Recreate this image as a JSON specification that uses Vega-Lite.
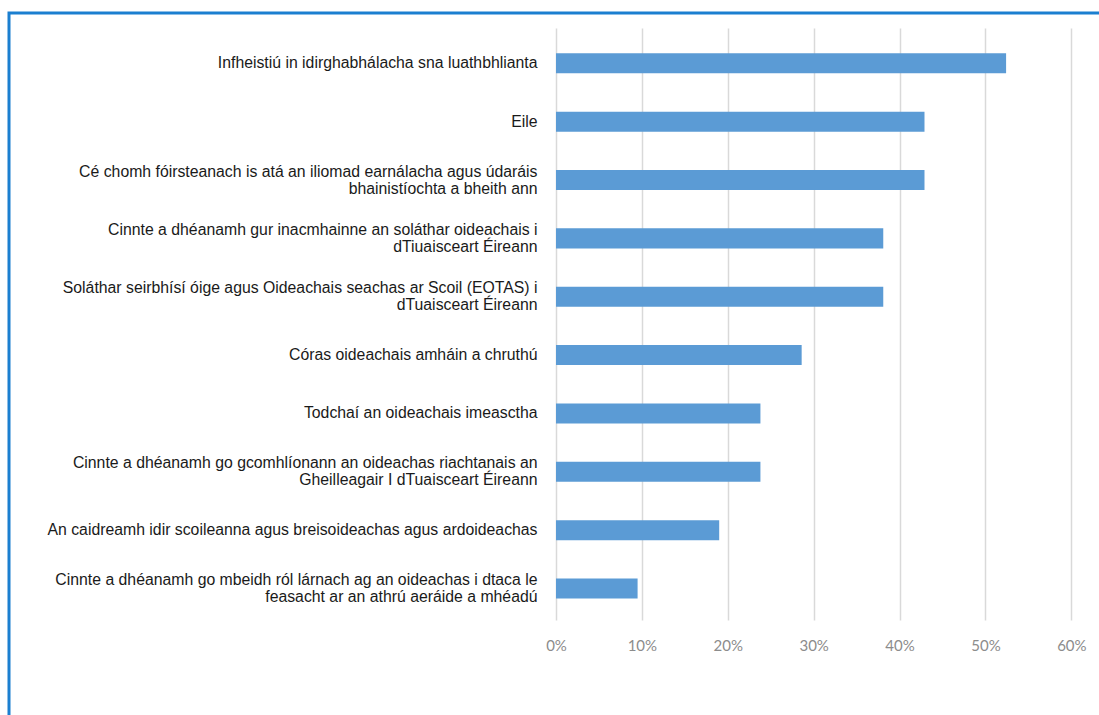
{
  "$schema": "https://vega.github.io/schema/vega-lite/v6.json",
  "width": 1100,
  "height": 710,
  "autosize": {"type": "none"},
  "padding": {"left": 9, "top": 13, "right": 0, "bottom": 0},
  "background": "white",
  "config": {"view": {"stroke": "#1b7fd0", "strokeWidth": 3}},
  "data": {"values": [
    {"cat": "Infheistiú in idirghabhálacha sna luathbhlianta", "v": 0.524},
    {"cat": "Eile", "v": 0.429},
    {"cat": "Cé chomh fóirsteanach is atá an iliomad earnálacha agus údaráis\nbhainistíochta a bheith ann", "v": 0.429},
    {"cat": "Cinnte a dhéanamh gur inacmhainne an soláthar oideachais i\ndTiuaisceart Éireann", "v": 0.381},
    {"cat": "Soláthar seirbhísí óige agus Oideachais seachas ar Scoil (EOTAS) i\ndTuaisceart Éireann", "v": 0.381},
    {"cat": "Córas oideachais amháin a chruthú", "v": 0.286},
    {"cat": "Todchaí an oideachais imeasctha", "v": 0.238},
    {"cat": "Cinnte a dhéanamh go gcomhlíonann an oideachas riachtanais an\nGheilleagair I dTuaisceart Éireann", "v": 0.238},
    {"cat": "An caidreamh idir scoileanna agus breisoideachas agus ardoideachas", "v": 0.190},
    {"cat": "Cinnte a dhéanamh go mbeidh ról lárnach ag an oideachas i dtaca le\nfeasacht ar an athrú aeráide a mhéadú", "v": 0.095}
  ]},
  "mark": {"type": "bar", "color": "#5b9bd5"},
  "encoding": {
    "y": {
      "field": "cat", "type": "nominal", "sort": null,
      "scale": {"range": [40.3, 585.5], "paddingInner": 0.657, "paddingOuter": 0},
      "axis": {
        "title": null, "orient": "left", "offset": -547, "ticks": false, "domain": false, "grid": false,
        "labelPadding": 19, "labelFont": "Liberation Sans", "labelFontSize": 15.8, "labelColor": "#1a1a1a",
        "labelLimit": 700, "labelExpr": "split(datum.label, '\\n')", "labelLineHeight": 17, "labelAlign": "right",
        "labelOffset": {"condition": {"test": "indexof(datum.value, '\\n') >= 0", "value": -8.5}, "value": 0}
      }
    },
    "x": {
      "field": "v", "type": "quantitative",
      "scale": {"domain": [-0.6368, 0.6438], "nice": false},
      "axis": {
        "title": null, "orient": "bottom", "values": [0, 0.1, 0.2, 0.3, 0.4, 0.5, 0.6], "format": ".0%",
        "grid": false, "domain": false, "ticks": true, "tickSize": -592, "tickColor": "#d9d9d9", "tickWidth": 1.5,
        "offset": -103, "labelPadding": 610, "labelFont": "Lato", "labelFontSize": 15, "labelColor": "#8c8c8c",
        "labelFlush": false, "labelOverlap": false
      }
    },
    "x2": {"datum": 0}
  }
}
